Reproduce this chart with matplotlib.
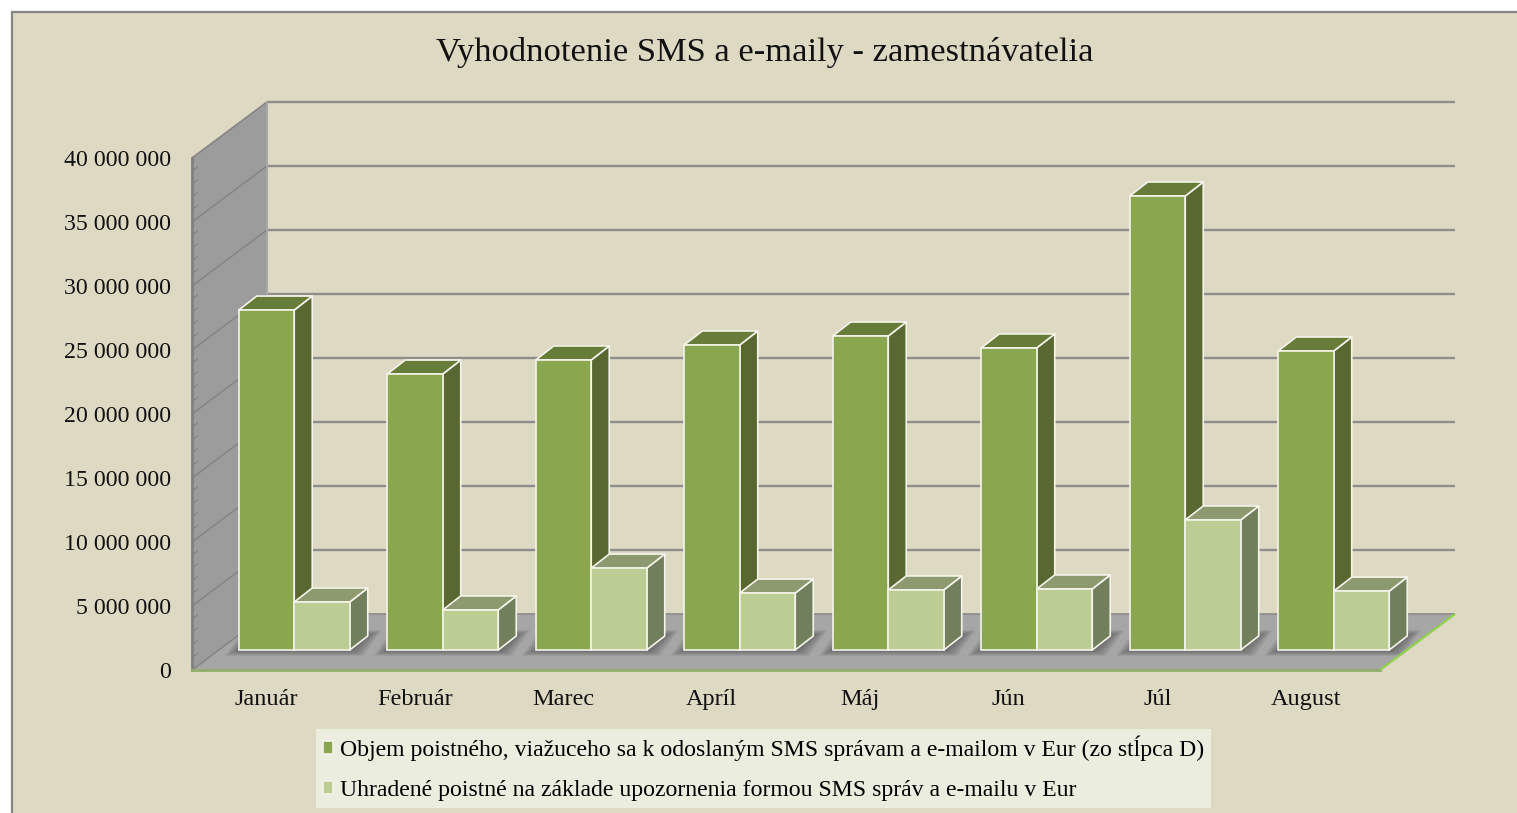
import matplotlib
matplotlib.use('Agg')
import matplotlib.pyplot as plt
from matplotlib.patches import Polygon, Rectangle

plt.rcParams['font.family'] = ['Liberation Serif', 'DejaVu Serif']

months = ['Január', 'Február', 'Marec', 'Apríl', 'Máj', 'Jún', 'Júl', 'August']
objem = [26.56e6, 21.56e6, 22.66e6, 23.83e6, 24.53e6, 23.6e6, 35.47e6, 23.36e6]
uhradene = [3.75e6, 3.13e6, 6.4e6, 4.45e6, 4.69e6, 4.77e6, 10.16e6, 4.6e6]
yticks = [0, 5e6, 10e6, 15e6, 20e6, 25e6, 30e6, 35e6, 40e6]
series_names = ['Objem poistného, viažuceho sa k odoslaným SMS správam a e-mailom v Eur (zo stĺpca D)',
                'Uhradené poistné na základe upozornenia formou SMS správ a e-mailu v Eur']

W, H = 1517, 813
BG = '#ded9c3'
fig = plt.figure(figsize=(W / 100, H / 100), dpi=100, facecolor='white')
fig.patches.append(Rectangle((11.5 / W, -0.1), 1.2, (H - 12) / H + 0.1, transform=fig.transFigure,
                             fc=BG, ec='#868686', lw=1.6, zorder=-1))

ax = fig.add_axes([192 / W, (H - 670) / H, 1188 / W, 512 / H])
ax.set_facecolor('none')
ax.set_xlim(-0.5, 7.5)
ax.set_ylim(0, 40e6)

# one screen pixel in data units, the 3d look is only sheared polygons
px = 8 / 1188
py = 40e6 / 512
wall_dx, wall_dy = 75 * px, 56 * py
shift_dx, shift_dy = 28 * px, 20 * py
bar_dx, bar_dy = 18 * px, 14 * py
bar_w = 55.5 * px


def poly(pts, **kw):
    kw.setdefault('clip_on', False)
    p = Polygon(pts, **kw)
    ax.add_patch(p)
    return p


def line(xs, ys, color, lw, z=2):
    ax.plot(xs, ys, color=color, lw=lw, zorder=z, clip_on=False, solid_capstyle='butt')


x0, x1 = -0.5, 7.5
poly([(x0, 0), (x0 + wall_dx, wall_dy), (x0 + wall_dx, 40e6 + wall_dy), (x0, 40e6)],
     fc='#9c9c9c', ec='none', zorder=1)
poly([(x0, 0), (x1, 0), (x1 + wall_dx, wall_dy), (x0 + wall_dx, wall_dy)],
     fc='#a6a6a6', ec='none', zorder=1)

for t in yticks:
    line([x0, x0 + wall_dx], [t, t + wall_dy], '#858585', 1.2)
    if t > 0:
        line([x0 + wall_dx, x1 + wall_dx], [t + wall_dy, t + wall_dy], '#8e8e8e', 1.7)
line([x0 + wall_dx, x0 + wall_dx], [wall_dy, 40e6 + wall_dy], '#a8a8a8', 1.5)
line([x0 + wall_dx, x1 + wall_dx], [wall_dy, wall_dy], '#8e8e8e', 1.3)
# small ticks on the wall edge
for i in range(8):
    for j in range(1, 5):
        t = yticks[i] + j * 1e6
        line([x0, x0 + 6 * px], [t, t + 4 * py], '#888888', 1.0)

# soft shadow on the floor
for i in range(len(months)):
    left = i + shift_dx - bar_w
    right = i + shift_dx + bar_w
    for k in range(1, 11):
        gx, gy = k * 1.4 * px, k * 0.6 * py
        poly([(left - gx, shift_dy - gy), (right + gx, shift_dy - gy),
              (right + bar_dx + gx, shift_dy + bar_dy + gy), (left + bar_dx - gx, shift_dy + bar_dy + gy)],
             fc='#303030', ec='none', alpha=0.06, zorder=2.5)


def bar3d(xs, vals, front, top, side, z, label):
    for x, v in zip(xs, vals):
        a, b = x - bar_w / 2, x + bar_w / 2
        base = shift_dy
        h = v + base
        poly([(b, base), (b + bar_dx, base + bar_dy), (b + bar_dx, h + bar_dy), (b, h)],
             fc=side, ec='#f4f4ea', lw=1.2, zorder=z, joinstyle='round')
        poly([(a, h), (b, h), (b + bar_dx, h + bar_dy), (a + bar_dx, h + bar_dy)],
             fc=top, ec='#f4f4ea', lw=1.2, zorder=z, joinstyle='round')
    return ax.bar(xs, vals, width=bar_w, bottom=shift_dy, color=front, edgecolor='#f4f4ea', linewidth=1.2,
                  zorder=z + 0.1, clip_on=False, label=label)


centers = range(len(months))
h1 = bar3d([i + shift_dx - bar_w / 2 for i in centers], objem, '#8aa64f', '#687c3a', '#586830', 3, series_names[0])
h2 = bar3d([i + shift_dx + bar_w / 2 for i in centers], uhradene, '#bccd94', '#8d9a6f', '#727f5c', 4, series_names[1])

for name in ['top', 'right']:
    ax.spines[name].set_visible(False)
ax.spines['left'].set_color('#808080')
ax.spines['left'].set_linewidth(2)
ax.spines['bottom'].set_color('#8fae6b')
ax.spines['bottom'].set_linewidth(2)
line([x1, x1 + wall_dx], [0, wall_dy], '#8fd14f', 1.6, z=3)

ax.set_xticks(list(centers))
ax.set_xticklabels(months, fontsize=17.5, color='#111111')
ax.set_yticks(yticks)
ax.set_yticklabels([f'{int(t):,}'.replace(',', ' ') for t in yticks], fontsize=17.2, color='#111111')
ax.tick_params(axis='both', length=0)
ax.tick_params(axis='y', pad=15)
ax.tick_params(axis='x', pad=13.5)

fig.text(765 / W, 1 - 52 / H, 'Vyhodnotenie SMS a e-maily - zamestnávatelia', fontsize=24.8,
         ha='center', va='center', color='#111111')

leg = fig.legend(handles=[h1, h2], loc='upper left', bbox_to_anchor=(316 / W, 1 - 729 / H), ncol=1,
                 fontsize=17.1, frameon=True, fancybox=False, facecolor='#ebeede', edgecolor='none', framealpha=1,
                 handlelength=0.45, handleheight=0.45, handletextpad=0.3, labelspacing=0.8,
                 borderpad=0.28, borderaxespad=0)

fig.savefig('out.png', dpi=100)
